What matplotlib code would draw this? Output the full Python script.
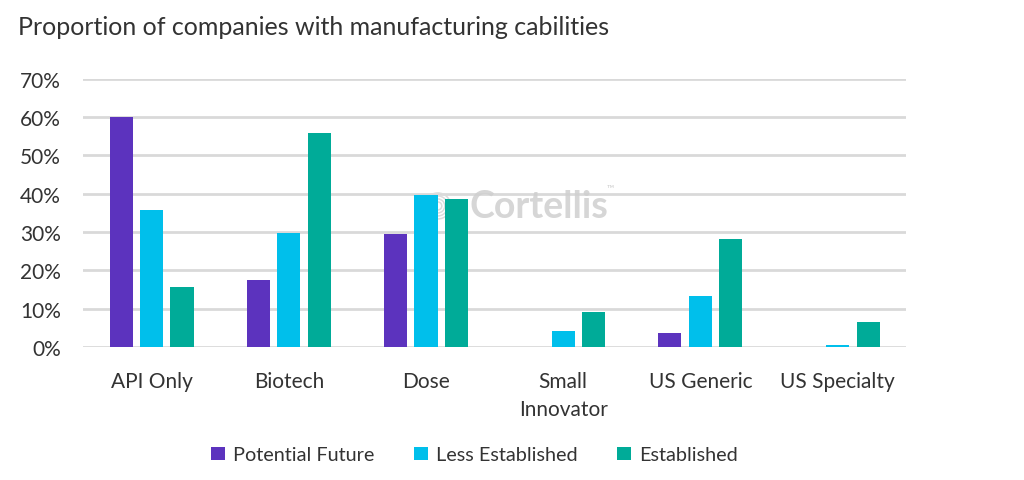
import numpy as np
import matplotlib.pyplot as plt
from matplotlib.patches import Ellipse

plt.rcParams['font.family'] = ['Lato', 'DejaVu Sans']

# Data (percent)
categories = ["API Only", "Biotech", "Dose", "Small\nInnovator", "US Generic", "US Specialty"]
series_names = ["Potential Future", "Less Established", "Established"]
potential_future = [60.0, 17.4, 29.4, 0.0, 3.7, 0.0]
less_established = [35.7, 29.8, 39.7, 4.2, 13.2, 0.4]
established = [15.7, 55.9, 38.6, 9.1, 28.3, 6.6]
colors = ["#5C33BE", "#00BFEB", "#00AB98"]

#################

fig = plt.figure(figsize=(10.24, 4.81), dpi=100)
ax = fig.add_axes([0.081, 0.2765, 0.804, 0.5575])

x = np.arange(len(categories))
bar_w = 0.168
step = 0.222
for i, (vals, name) in enumerate(zip([potential_future, less_established, established], series_names)):
    ax.bar(x + (i - 1) * step, vals, width=bar_w, color=colors[i], label=name, zorder=3)

ax.set_xlim(-0.5, len(categories) - 0.5)
ax.set_ylim(0, 70)
ax.set_yticks(np.arange(0, 71, 10))
ax.set_yticklabels(["{:d}%".format(v) for v in range(0, 71, 10)])
ax.set_xticks(x)
ax.set_xticklabels(categories, va="top", linespacing=1.5)

ax.grid(axis="y", color="#d9d9d9", linewidth=2, zorder=0)
ax.set_axisbelow(True)
for s in ax.spines.values():
    s.set_visible(False)
ax.tick_params(axis="both", length=0, labelsize=15, colors="#333333")
ax.tick_params(axis="y", pad=16)
ax.tick_params(axis="x", pad=17)

# faint watermark
ax.text(0.469, 0.525, "Cortellis", transform=ax.transAxes, fontsize=27, fontweight="bold",
        color="#cfcfcf", alpha=0.85, va="center", ha="left", zorder=2)
ax.text(0.636, 0.585, "™", transform=ax.transAxes, fontsize=7, color="#cfcfcf", zorder=2)
for r in [13, 10, 7, 4]:
    ax.add_patch(Ellipse((0.431, 0.526), 2 * r / 823, 2 * r / 268, transform=ax.transAxes,
                         fill=False, edgecolor="#dcdcdc", linewidth=1.1, zorder=2))

fig.text(0.018, 0.942, "Proportion of companies with manufacturing cabilities",
         fontsize=18, color="#333333", ha="left", va="center")

fig.legend(loc="center", bbox_to_anchor=(0.463, 0.052), ncol=3, frameon=False,
           fontsize=14.3, handlelength=0.7, handleheight=0.7, handletextpad=0.4,
           columnspacing=2.0, labelcolor="#333333")

plt.savefig("out.png", dpi=100)
